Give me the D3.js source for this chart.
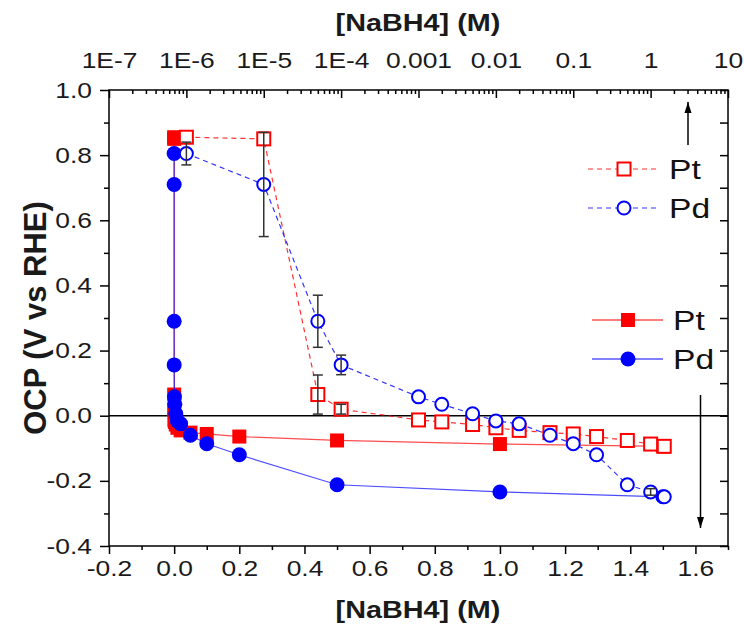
<!DOCTYPE html>
<html><head><meta charset="utf-8">
<script src="https://cdn.jsdelivr.net/npm/d3@7"></script>
<style>
body{margin:0;background:#fff}
text{font-family:"Liberation Sans",Arial,sans-serif}
</style>
</head><body>
<svg id="chart" width="744" height="630"></svg>
<script>
// ---- data ----
const conc = [1e-6, 1e-5, 5e-5, 1e-4, 1e-3, 2e-3, 5e-3, 0.01, 0.02, 0.05, 0.1, 0.2, 0.5, 1.0, 1.5];
const ptOCP = [0.855, 0.85, 0.065, 0.02, -0.013, -0.019, -0.027, -0.037, -0.045, -0.052, -0.056, -0.064, -0.076, -0.087, -0.094];
const pdOCP = [0.805, 0.71, 0.29, 0.156, 0.058, 0.035, 0.006, -0.016, -0.025, -0.06, -0.086, -0.12, -0.212, -0.234, -0.249];
const ptErr = [0, 0, 0.06, 0.015, 0, 0, 0, 0, 0, 0, 0, 0, 0, 0, 0];
const pdErr = [0.035, 0.16, 0.08, 0.03, 0, 0, 0, 0, 0, 0, 0, 0, 0, 0.01, 0];
const bottomTicks = [-0.2, 0.0, 0.2, 0.4, 0.6, 0.8, 1.0, 1.2, 1.4, 1.6];
const bottomMinor = [-0.1, 0.1, 0.3, 0.5, 0.7, 0.9, 1.1, 1.3, 1.5, 1.7];
const topTicks = [1e-7, 1e-6, 1e-5, 1e-4, 1e-3, 1e-2, 0.1, 1, 10];
const topTickLabels = ["1E-7", "1E-6", "1E-5", "1E-4", "0.001", "0.01", "0.1", "1", "10"];
const yTicks = [-0.4, -0.2, 0.0, 0.2, 0.4, 0.6, 0.8, 1.0];
const yMinor = [-0.3, -0.1, 0.1, 0.3, 0.5, 0.7, 0.9];
const legendLabels = ["Pt", "Pd"];

// ---- layout ----
const W = 744, H = 630;
const m = {left: 109, right: 16, top: 90, bottom: 84};
const SX = 1.2; // horizontal stretch of glyphs seen in the reference
const svg = d3.select("#chart");
const x = d3.scaleLinear().domain([-0.2, 1.7]).range([m.left, W - m.right]);
const xTop = d3.scaleLog().domain([1e-7, 10]).range([m.left, W - m.right]);
const y = d3.scaleLinear().domain([-0.4, 1.0]).range([H - m.bottom, m.top]);
const fmt = v => d3.format(".1f")(v).replace("−", "-");
const RED = "#ff0000", BLUE = "#0000ff";
const TICKFS = 22;

function stretch(sel) {
  sel.each(function () {
    const t = d3.select(this);
    const xv = +(t.attr("x") || 0);
    t.attr("x", xv / SX).attr("transform", (t.attr("transform") || "") + ` scale(${SX},1)`);
  });
}

const rows = conc.map((c, i) => ({c, pt: ptOCP[i], pd: pdOCP[i], pe: ptErr[i], de: pdErr[i]}));

// frame
const g = svg.append("g");
g.append("rect").attr("x", x(-0.2)).attr("y", y(1.0))
  .attr("width", x(1.7) - x(-0.2)).attr("height", y(-0.4) - y(1.0))
  .attr("fill", "none").attr("stroke", "#000").attr("stroke-width", 1.5);

function styleAxis(sel, labels) {
  sel.select(".domain").remove();
  sel.selectAll(".tick line").attr("stroke", "#000").attr("stroke-width", 1.5);
  sel.selectAll(".tick text").attr("font-size", TICKFS).attr("fill", "#1a1a1a")
    .style("font-family", '"Liberation Sans",Arial,sans-serif');
  if (!labels) sel.selectAll(".tick text").remove();
  else stretch(sel.selectAll(".tick text"));
}
// bottom
g.append("g").attr("transform", `translate(0,${y(-0.4)})`)
  .call(d3.axisBottom(x).tickValues(bottomTicks).tickSize(8).tickPadding(6).tickFormat(fmt))
  .call(s => styleAxis(s, true));
g.append("g").attr("transform", `translate(0,${y(-0.4)})`)
  .call(d3.axisBottom(x).tickValues(bottomMinor).tickSize(4))
  .call(s => styleAxis(s, false));
// left
g.append("g").attr("transform", `translate(${x(-0.2)},0)`)
  .call(d3.axisLeft(y).tickValues(yTicks).tickSize(9).tickPadding(8).tickFormat(fmt))
  .call(s => styleAxis(s, true));
g.append("g").attr("transform", `translate(${x(-0.2)},0)`)
  .call(d3.axisLeft(y).tickValues(yMinor).tickSize(5))
  .call(s => styleAxis(s, false));
// right (inward)
g.append("g").attr("transform", `translate(${x(1.7)},0)`)
  .call(d3.axisLeft(y).tickValues(yTicks.concat(yMinor)).tickSize(8))
  .call(s => styleAxis(s, false));
// top (log), ticks inward, labels outside
const topMinor = [];
for (let e = -7; e < 1; e++) for (let k = 2; k <= 9; k++) topMinor.push(k * Math.pow(10, e));
g.append("g").attr("transform", `translate(0,${y(1.0)})`)
  .call(d3.axisBottom(xTop).tickValues(topTicks).tickSize(8).tickFormat(""))
  .call(s => styleAxis(s, false));
g.append("g").attr("transform", `translate(0,${y(1.0)})`)
  .call(d3.axisBottom(xTop).tickValues(topMinor).tickSize(4).tickFormat(""))
  .call(s => styleAxis(s, false));
g.append("g").attr("transform", `translate(0,${y(1.0)})`)
  .call(d3.axisTop(xTop).tickValues(topTicks).tickSize(0).tickPadding(22)
    .tickFormat((d, i) => topTickLabels[i]))
  .call(s => styleAxis(s, true));

// titles
svg.append("text").attr("x", 418).attr("y", 31).attr("text-anchor", "middle")
  .attr("font-size", 24).attr("font-weight", "bold").attr("fill", "#1a1a1a").text("[NaBH4] (M)")
  .call(stretch);
svg.append("text").attr("x", 418).attr("y", 618).attr("text-anchor", "middle")
  .attr("font-size", 24).attr("font-weight", "bold").attr("fill", "#1a1a1a").text("[NaBH4] (M)")
  .call(stretch);
svg.append("text")
  .attr("transform", `translate(46,${(y(1.0) + y(-0.4)) / 2}) rotate(-90)`)
  .attr("text-anchor", "middle").attr("font-size", 31).attr("font-weight", "bold")
  .attr("fill", "#1a1a1a").text("OCP (V vs RHE)");

// zero line
g.append("line").attr("x1", x(-0.2)).attr("x2", x(1.7)).attr("y1", y(0)).attr("y2", y(0))
  .attr("stroke", "#000").attr("stroke-width", 1.5);

// ---- filled series (bottom linear axis) ----
const lineLin = key => d3.line().x(d => x(d.c)).y(d => y(d[key]));
const lineLog = key => d3.line().x(d => xTop(d.c)).y(d => y(d[key]));
g.append("path").datum(rows).attr("d", lineLin("pt")).attr("fill", "none")
  .attr("stroke", RED).attr("stroke-width", 1.2).attr("stroke-opacity", 0.7);
g.selectAll(".fpt").data(rows).join("rect")
  .attr("x", d => x(d.c) - 7).attr("y", d => y(d.pt) - 7).attr("width", 14).attr("height", 14)
  .attr("fill", RED);
g.append("path").datum(rows).attr("d", lineLin("pd")).attr("fill", "none")
  .attr("stroke", BLUE).attr("stroke-width", 1.2).attr("stroke-opacity", 0.7);
g.selectAll(".fpd").data(rows).join("circle")
  .attr("cx", d => x(d.c)).attr("cy", d => y(d.pd)).attr("r", 7.5).attr("fill", BLUE);

// ---- open series (top log axis) ----
g.append("path").datum(rows).attr("d", lineLog("pt")).attr("fill", "none")
  .attr("stroke", RED).attr("stroke-width", 1.2).attr("stroke-dasharray", "5,4").attr("stroke-opacity", 0.8);
g.append("path").datum(rows).attr("d", lineLog("pd")).attr("fill", "none")
  .attr("stroke", BLUE).attr("stroke-width", 1.2).attr("stroke-dasharray", "5,4").attr("stroke-opacity", 0.8);
g.selectAll(".opt").data(rows).join("rect")
  .attr("x", d => xTop(d.c) - 6.5).attr("y", d => y(d.pt) - 6.5).attr("width", 13).attr("height", 13)
  .attr("fill", "#fff").attr("stroke", RED).attr("stroke-width", 2);
g.selectAll(".opd").data(rows).join("circle")
  .attr("cx", d => xTop(d.c)).attr("cy", d => y(d.pd)).attr("r", 6.5)
  .attr("fill", "#fff").attr("stroke", BLUE).attr("stroke-width", 2);

// error bars
function errBars(key, ekey) {
  const eg = g.append("g").attr("stroke", "#333").attr("stroke-width", 1.5);
  rows.filter(d => d[ekey] > 0).forEach(d => {
    const cx = xTop(d.c), y1 = y(d[key] + d[ekey]), y2 = y(d[key] - d[ekey]);
    eg.append("line").attr("x1", cx).attr("x2", cx).attr("y1", y1).attr("y2", y2);
    eg.append("line").attr("x1", cx - 5).attr("x2", cx + 5).attr("y1", y1).attr("y2", y1);
    eg.append("line").attr("x1", cx - 5).attr("x2", cx + 5).attr("y1", y2).attr("y2", y2);
  });
}
errBars("pt", "pe");
errBars("pd", "de");

// arrows
function arrow(xp, y1, y2) {
  g.append("line").attr("x1", xp).attr("x2", xp).attr("y1", y1).attr("y2", y2)
    .attr("stroke", "#000").attr("stroke-width", 1.5);
  const dir = Math.sign(y2 - y1);
  g.append("path").attr("d", `M${xp},${y2} L${xp - 3.5},${y2 - dir * 11} L${xp + 3.5},${y2 - dir * 11} Z`)
    .attr("fill", "#000");
}
arrow(688, 145, 102);
arrow(700.5, 395, 528);

// ---- legends ----
const lg = svg.append("g");
[[RED, "sq", 169], [BLUE, "ci", 208]].forEach(([col, shape, ly], i) => {
  lg.append("line").attr("x1", 588).attr("x2", 660).attr("y1", ly).attr("y2", ly)
    .attr("stroke", col).attr("stroke-width", 1.2).attr("stroke-dasharray", "5,4").attr("stroke-opacity", 0.8);
  if (shape === "sq") lg.append("rect").attr("x", 624 - 6.5).attr("y", ly - 6.5).attr("width", 13).attr("height", 13)
    .attr("fill", "#fff").attr("stroke", col).attr("stroke-width", 2);
  else lg.append("circle").attr("cx", 624).attr("cy", ly).attr("r", 6.5)
    .attr("fill", "#fff").attr("stroke", col).attr("stroke-width", 2);
  lg.append("text").attr("x", 669).attr("y", ly).attr("dy", "0.36em").attr("font-size", 28)
    .attr("fill", "#111").text(legendLabels[i]).call(stretch);
});
[[RED, "sq", 320], [BLUE, "ci", 359]].forEach(([col, shape, ly], i) => {
  lg.append("line").attr("x1", 592).attr("x2", 663).attr("y1", ly).attr("y2", ly)
    .attr("stroke", col).attr("stroke-width", 1.2);
  if (shape === "sq") lg.append("rect").attr("x", 628 - 7).attr("y", ly - 7).attr("width", 14).attr("height", 14)
    .attr("fill", col);
  else lg.append("circle").attr("cx", 628).attr("cy", ly).attr("r", 7.5).attr("fill", col);
  lg.append("text").attr("x", 673).attr("y", ly).attr("dy", "0.36em").attr("font-size", 28)
    .attr("fill", "#111").text(legendLabels[i]).call(stretch);
});
</script>
</body></html>
